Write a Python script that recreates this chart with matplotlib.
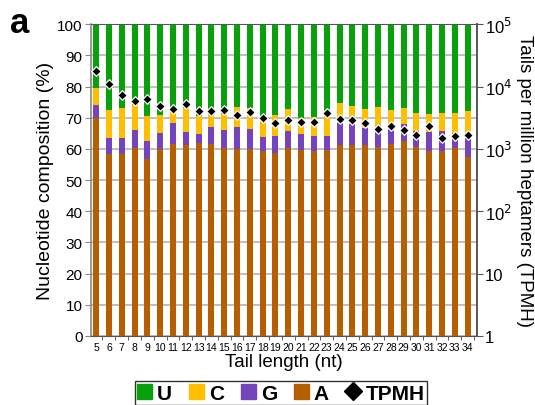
import matplotlib
matplotlib.use("Agg")
import matplotlib.pyplot as plt
import matplotlib.ticker as mticker
from matplotlib.lines import Line2D
from matplotlib.patches import Patch
import numpy as np

plt.rcParams["font.family"] = ["Liberation Sans", "DejaVu Sans"]

# ---------------------------------------------------------------------------
# Data
# ---------------------------------------------------------------------------
tail_length = list(range(5, 35))

pct_A = [70.0, 58.5, 58.5, 60.4, 56.8, 60.0, 61.7, 61.1, 61.9, 61.7,
         60.4, 60.0, 60.0, 59.4, 58.7, 60.4, 59.8, 59.4, 59.8, 61.3,
         61.3, 61.3, 60.6, 61.7, 62.6, 60.6, 59.2, 59.2, 60.4, 57.4]
pct_G = [4.2, 5.0, 5.0, 5.8, 5.8, 5.2, 6.7, 4.4, 2.9, 5.4,
         5.8, 7.1, 6.4, 4.5, 5.5, 5.4, 5.0, 4.8, 4.4, 7.1,
         6.8, 5.5, 5.2, 5.2, 5.5, 5.2, 6.3, 6.6, 4.8, 6.5]
pct_C = [5.2, 9.1, 9.7, 8.0, 8.0, 5.8, 4.2, 7.5, 5.8, 4.2,
         5.1, 6.4, 6.7, 5.7, 6.8, 7.1, 5.2, 6.1, 7.3, 6.4,
         5.8, 6.1, 7.7, 5.7, 5.1, 5.8, 5.8, 5.8, 6.4, 8.4]
pct_U = [20.6, 27.4, 26.8, 25.8, 29.4, 29.0, 27.4, 27.0, 29.4, 28.7,
         28.7, 26.5, 26.9, 30.4, 29.0, 27.1, 30.0, 29.7, 28.5, 25.2,
         26.1, 27.1, 26.5, 27.4, 26.8, 28.4, 28.7, 28.4, 28.4, 27.7]

tpmh = [17800, 11000, 7400, 5960, 6240, 4790, 4420, 5250, 4030, 4030,
        4270, 3550, 3890, 3160, 2600, 2950, 2690, 2690, 3760, 2990,
        2950, 2570, 2110, 2340, 2020, 1680, 2320, 1500, 1620, 1680]

COLORS = {"U": "#08a10b", "C": "#ffbf00", "G": "#7444bd", "A": "#b55f00"}

# ---------------------------------------------------------------------------
# Figure
# ---------------------------------------------------------------------------
fig = plt.figure(figsize=(5.35, 4.06), dpi=100)
ax = fig.add_axes([0.170, 0.170, 0.721, 0.768])

x = np.array(tail_length)
width = 0.47
bottom = np.zeros(len(x))
for key, vals in [("A", pct_A), ("G", pct_G), ("C", pct_C), ("U", pct_U)]:
    vals = np.array(vals)
    ax.bar(x, vals, width, bottom=bottom, color=COLORS[key], zorder=2)
    bottom += vals

ax.set_xlim(4.6, 34.7)
ax.set_ylim(0, 100)
ax.set_yticks(range(0, 101, 10))
ax.yaxis.grid(True, color="#b4b4b4", linewidth=1.2, zorder=0)
ax.set_axisbelow(True)

ax.set_xticks(x)
ax.set_xticklabels([str(v) for v in x], fontsize=7.5,
                   family=["Liberation Sans Narrow", "Liberation Sans"])
ax.xaxis.set_minor_locator(mticker.FixedLocator(np.arange(4.5, 35, 1)))
ax.tick_params(axis="x", which="major", length=0, pad=4)
ax.tick_params(axis="x", which="minor", length=3, color="#444444")
ax.tick_params(axis="y", labelsize=11, length=4, color="#888888", pad=2)

ax.spines["left"].set_color("#888888")
ax.spines["left"].set_linewidth(1.2)
ax.spines["bottom"].set_color("#555555")
ax.spines["top"].set_color("#555555")
ax.spines["right"].set_visible(False)

ax.set_ylabel("Nucleotide composition (%)", fontsize=14, labelpad=2)
ax.set_xlabel("Tail length (nt)", fontsize=13.5, labelpad=1)

# --- TPMH on a log axis ---
ax2 = ax.twinx()
ax2.set_yscale("log")
ax2.set_ylim(1, 1e5)
ax2.scatter(x, tpmh, marker="D", s=24, color="black", edgecolor="white",
            linewidth=0.9, zorder=5)
ax2.set_yticks([1, 10, 100, 1000, 10000, 100000])
ax2.set_yticklabels(["1", "10", r"10$^2$", r"10$^3$", r"10$^4$", r"10$^5$"])
ax2.yaxis.set_minor_locator(mticker.NullLocator())
ax2.tick_params(axis="y", labelsize=12, length=4, color="#555555", pad=2)
ax2.spines["right"].set_color("#555555")
ax2.spines["right"].set_linewidth(1.4)
for s in ["left", "top", "bottom"]:
    ax2.spines[s].set_visible(False)
ax2.set_ylabel("Tails per million heptamers (TPMH)", fontsize=13.5,
               rotation=270, labelpad=15)

fig.text(0.018, 0.918, "a", fontsize=25, fontweight="bold")

# --- legend ---
handles = [Patch(color=COLORS[k], label=k) for k in ["U", "C", "G", "A"]]
handles.append(Line2D([], [], marker="D", color="black", linestyle="none",
                      markersize=9.5, label="TPMH"))
fig.legend(handles=handles, loc="upper center", bbox_to_anchor=(0.525, 0.058),
           ncol=5, frameon=True, fancybox=False, edgecolor="black",
           prop={"weight": "bold", "size": 15}, handlelength=0.72,
           handleheight=0.72, handletextpad=0.25, columnspacing=0.8,
           borderpad=0.1, borderaxespad=0.0)

fig.savefig("out.png", dpi=100)
